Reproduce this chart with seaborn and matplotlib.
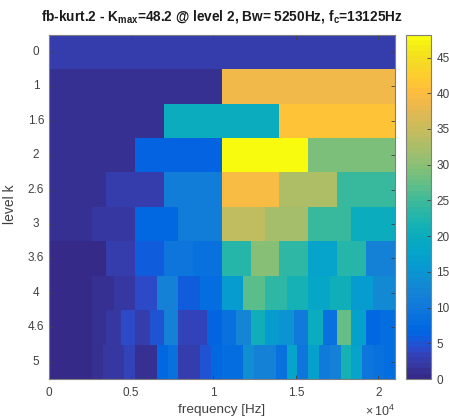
import numpy as np
import pandas as pd
import matplotlib
matplotlib.use('Agg')
import matplotlib.pyplot as plt
import seaborn as sns
from matplotlib.colors import ListedColormap

# parula, 64 steps
PARULA = [
    [0.2081, 0.1663, 0.5292], [0.2116, 0.1898, 0.5777], [0.2123, 0.2138, 0.6270], [0.2081, 0.2386, 0.6771],
    [0.1959, 0.2645, 0.7279], [0.1707, 0.2919, 0.7792], [0.1253, 0.3242, 0.8303], [0.0591, 0.3598, 0.8683],
    [0.0117, 0.3875, 0.8820], [0.0060, 0.4086, 0.8828], [0.0165, 0.4266, 0.8786], [0.0329, 0.4430, 0.8720],
    [0.0498, 0.4586, 0.8641], [0.0629, 0.4737, 0.8554], [0.0723, 0.4887, 0.8467], [0.0779, 0.5040, 0.8384],
    [0.0793, 0.5204, 0.8312], [0.0749, 0.5375, 0.8263], [0.0641, 0.5570, 0.8240], [0.0488, 0.5772, 0.8228],
    [0.0343, 0.5966, 0.8199], [0.0265, 0.6137, 0.8135], [0.0239, 0.6287, 0.8038], [0.0231, 0.6418, 0.7913],
    [0.0228, 0.6535, 0.7768], [0.0267, 0.6642, 0.7607], [0.0384, 0.6743, 0.7436], [0.0590, 0.6838, 0.7254],
    [0.0843, 0.6928, 0.7062], [0.1133, 0.7015, 0.6859], [0.1453, 0.7098, 0.6646], [0.1801, 0.7177, 0.6424],
    [0.2178, 0.7250, 0.6193], [0.2586, 0.7317, 0.5954], [0.3022, 0.7376, 0.5712], [0.3482, 0.7424, 0.5473],
    [0.3953, 0.7459, 0.5244], [0.4420, 0.7481, 0.5033], [0.4871, 0.7491, 0.4840], [0.5300, 0.7491, 0.4661],
    [0.5709, 0.7485, 0.4494], [0.6099, 0.7473, 0.4337], [0.6473, 0.7456, 0.4188], [0.6834, 0.7435, 0.4044],
    [0.7184, 0.7411, 0.3905], [0.7525, 0.7384, 0.3768], [0.7858, 0.7356, 0.3633], [0.8185, 0.7327, 0.3498],
    [0.8507, 0.7299, 0.3360], [0.8824, 0.7274, 0.3217], [0.9139, 0.7258, 0.3063], [0.9450, 0.7261, 0.2886],
    [0.9739, 0.7314, 0.2666], [0.9938, 0.7455, 0.2403], [0.9990, 0.7653, 0.2164], [0.9955, 0.7861, 0.1967],
    [0.9880, 0.8066, 0.1794], [0.9789, 0.8271, 0.1633], [0.9697, 0.8481, 0.1475], [0.9626, 0.8705, 0.1309],
    [0.9589, 0.8949, 0.1132], [0.9598, 0.9218, 0.0948], [0.9661, 0.9514, 0.0755], [0.9763, 0.9831, 0.0538],
]

LEVELS = ['0', '1', '1.6', '2', '2.6', '3', '3.6', '4', '4.6', '5']
FREQ_MAX = 21000
FREQ_TICKS = [0, 5000, 10000, 15000, 20000]
FREQ_LABELS = ['0', '0.5', '1', '1.5', '2']
CBAR_TICKS = [0, 5, 10, 15, 20, 25, 30, 35, 40, 45]
KMAX = 48.2

level_0 = [2.6]
level_1 = [0.9, 38.8]
level_16 = [0.9, 20.0, 41.0]
level_2 = [0.9, 6.4, 48.2, 28.9]
level_26 = [0.9, 2.8, 11.0, 39.5, 33.0, 24.5]
level_3 = [1.1, 1.9, 7.0, 11.0, 34.0, 32.0, 24.5, 19.7]
level_36 = [0.4, 0.4, 2.4, 5.6, 9.5, 8.5, 23.0, 29.7, 23.5, 17.7, 23.0, 11.5]
level_4 = [0.4, 0.4, 1.5, 2.0, 3.8, 11.5, 5.6, 7.8, 16.0, 26.5, 23.5, 21.5, 18.5, 20.5, 16.0, 13.0]
level_46 = [0.5, 0.5, 0.5, 1.3, 2.0, 4.0, 2.3, 4.8, 11.5, 3.2, 3.4, 6.4,
            8.5, 12.3, 20.5, 16.0, 14.7, 10.0, 20.0, 8.5, 27.5, 17.0, 7.5, 8.0]
level_5 = [0.5, 0.5, 0.5, 0.5, 1.1, 1.6, 1.6, 3.3, 1.4, 1.4, 7.5, 8.5, 3.0, 3.0, 4.8, 7.0,
           8.0, 8.0, 13.6, 12.0, 12.0, 9.0, 17.5, 9.5, 17.0, 10.5, 11.5, 21.5, 17.5, 9.5, 8.5, 8.0]

rows = [level_0, level_1, level_16, level_2, level_26, level_3, level_36, level_4, level_46, level_5]

# every level has a different number of bands, 96 columns fits them all
N_COLS = 96
grid = pd.DataFrame([np.repeat(r, N_COLS // len(r)) for r in rows], index=LEVELS)

TEXT_COLOR = '#404040'
W, H = 449, 418

plt.rcParams['font.family'] = ['Liberation Sans', 'DejaVu Sans']
plt.rcParams['mathtext.default'] = 'regular'

fig = plt.figure(figsize=(W / 100, H / 100), dpi=100)
ax = fig.add_axes([48.7 / W, 1 - 379 / H, 346 / W, 344.3 / H])
cax = fig.add_axes([406 / W, 1 - 379 / H, 24.7 / W, 344.3 / H])

sns.heatmap(grid, ax=ax, cbar_ax=cax, cmap=ListedColormap(PARULA), vmin=0, vmax=KMAX,
            xticklabels=False, yticklabels=True, cbar_kws={'ticks': CBAR_TICKS})

# frequency scale in the heatmap's column coordinates
ax.set_xticks([f / FREQ_MAX * N_COLS for f in FREQ_TICKS])
ax.set_xticklabels(FREQ_LABELS)
ax.tick_params(axis='both', direction='in', length=3, width=0.6, color='#404040',
               labelsize=8.5, labelcolor=TEXT_COLOR, top=True, right=True)
ax.tick_params(axis='y', labelrotation=0, pad=9.2)
ax.tick_params(axis='x', pad=6)
for label in ax.get_yticklabels():
    label.set_ha('center')

for spine in ax.spines.values():
    spine.set_visible(True)
    spine.set_color('#7f7f7f')
    spine.set_linewidth(0.8)

ax.set_xlabel('frequency [Hz]', fontsize=9.7, color=TEXT_COLOR, labelpad=3.5)
ax.set_ylabel('level k', fontsize=10, color=TEXT_COLOR)
ax.yaxis.set_label_coords(-0.093, 0.508)
ax.set_title('fb-kurt.2 - K$_{max}$=48.2 @ level 2, Bw= 5250Hz, f$_{c}$=13125Hz',
             fontsize=9.8, fontweight='bold', color='#1a1a1a', pad=10)
ax.text(1.0, -0.093, r'$\times\,10^{4}$', transform=ax.transAxes, ha='right', va='center',
        fontsize=9, color=TEXT_COLOR)

cax.tick_params(direction='in', length=3, width=0.6, color='#404040', labelsize=8.5,
                labelcolor=TEXT_COLOR, pad=4)
cbar = ax.collections[0].colorbar
cbar.outline.set_edgecolor('#7f7f7f')
cbar.outline.set_linewidth(0.8)

plt.savefig('out.png', dpi=100)
plt.close()
